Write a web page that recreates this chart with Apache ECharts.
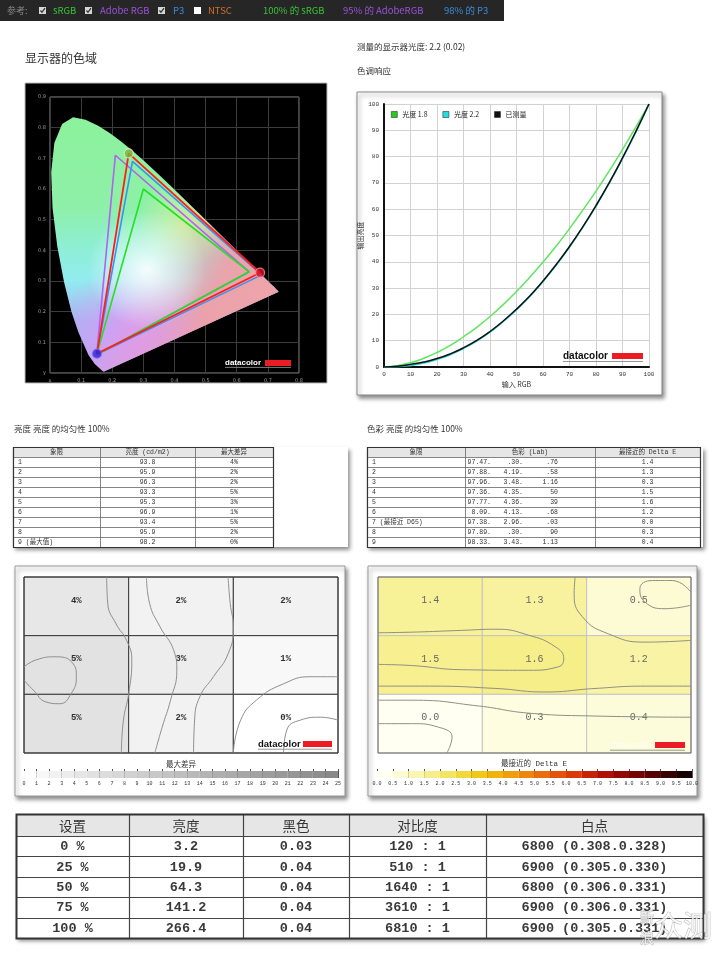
<!DOCTYPE html>
<html>
<head>
<meta charset="utf-8">
<script src="https://cdn.jsdelivr.net/npm/echarts@6/dist/echarts.min.js"></script>
<style>
  html, body { margin: 0; padding: 0; background: #fff; }
  #chart { width: 720px; height: 956px; }
</style>
</head>
<body>
<div id="chart"></div>
<script>
// ---- data ----
const refLabels = ['sRGB', 'Adobe RGB', 'P3', 'NTSC'];
const refChecked = [true, true, true, false];
const coverageLabels = ['100% 的 sRGB', '95% 的 AdobeRGB', '98% 的 P3'];

// CIE 1931 spectral locus (x, y)
const locus = [
  [0.1741, 0.0050], [0.1738, 0.0049], [0.1733, 0.0048], [0.1726, 0.0048], [0.1714, 0.0051],
  [0.1689, 0.0069], [0.1644, 0.0109], [0.1566, 0.0177], [0.1440, 0.0297], [0.1241, 0.0578],
  [0.0913, 0.1327], [0.0687, 0.2007], [0.0454, 0.2950], [0.0235, 0.4127], [0.0082, 0.5384],
  [0.0039, 0.6548], [0.0139, 0.7502], [0.0389, 0.8120], [0.0743, 0.8338], [0.1142, 0.8262],
  [0.1547, 0.8059], [0.1929, 0.7816], [0.2296, 0.7543], [0.2658, 0.7243], [0.3016, 0.6923],
  [0.3373, 0.6589], [0.3731, 0.6245], [0.4087, 0.5896], [0.4441, 0.5547], [0.4788, 0.5202],
  [0.5125, 0.4866], [0.5448, 0.4544], [0.5752, 0.4242], [0.6029, 0.3965], [0.6270, 0.3725],
  [0.6482, 0.3514], [0.6658, 0.3340], [0.6801, 0.3197], [0.6915, 0.3083], [0.7006, 0.2993],
  [0.7079, 0.2920], [0.7140, 0.2859], [0.7190, 0.2809], [0.7230, 0.2770], [0.7260, 0.2740],
  [0.7300, 0.2700], [0.7347, 0.2653]
];
const srgbGamut = [[0.64, 0.33], [0.30, 0.60], [0.15, 0.06]];
const adobeGamut = [[0.64, 0.33], [0.21, 0.71], [0.15, 0.06]];
const p3Gamut = [[0.68, 0.32], [0.265, 0.69], [0.15, 0.06]];
const measuredGamut = [[0.675, 0.327], [0.253, 0.716], [0.151, 0.063]];

// tone response
const toneX = [0, 5, 10, 15, 20, 25, 30, 35, 40, 45, 50, 55, 60, 65, 70, 75, 80, 85, 90, 95, 100];
const gamma18 = [0, 0.5, 1.6, 3.3, 5.5, 8.2, 11.5, 15.1, 19.2, 23.7, 28.7, 34.1, 39.9, 46.0, 52.6, 59.6, 66.9, 74.6, 82.7, 91.2, 100];
const gamma22 = [0, 0.1, 0.6, 1.5, 2.9, 4.7, 7.1, 9.9, 13.3, 17.3, 21.8, 26.8, 32.5, 38.8, 45.6, 53.1, 61.2, 69.9, 79.3, 89.3, 100];
const toneMeasured = [0, 0.3, 1.0, 1.9, 3.2, 5.0, 7.3, 10.1, 13.5, 17.5, 22.0, 27.0, 32.7, 39.0, 45.8, 53.3, 61.4, 70.1, 79.5, 89.5, 100];

// brightness uniformity
const quadrants = ['1', '2', '3', '4', '5', '6', '7', '8', '9 (最大值)'];
const luminance = ['93.8', '95.9', '96.3', '93.3', '95.3', '96.9', '93.4', '95.9', '98.2'];
const maxDiff = [4, 2, 2, 5, 3, 1, 5, 2, 0];

// colour uniformity
const colorQuadrants = ['1', '2', '3', '4', '5', '6', '7 (最接近 D65)', '8', '9'];
const labL = ['97.47.', '97.88.', '97.96.', '97.36.', '97.77.', '8.09.', '97.38.', '97.89.', '98.33.'];
const labA = ['.30.', '4.19.', '3.48.', '4.35.', '4.36.', '4.13.', '2.96.', '.30.', '3.43.'];
const labB = ['.76', '.58', '1.16', '50', '39', '.68', '.03', '90', '1.13'];
const deltaE = ['1.4', '1.3', '0.3', '1.5', '1.6', '1.2', '0.0', '0.3', '0.4'];
const deltaMap = [1.4, 1.3, 0.5, 1.5, 1.6, 1.2, 0.0, 0.3, 0.4];

// contour lines (x: 0..3 left to right, y: 0..3 bottom to top)
const leftContours = [
  [[0.79, 3], [0.80, 2.55], [0.88, 2.2], [0.98, 1.92], [1.03, 1.58], [1.0, 1.01], [0.95, 0.56], [0.93, 0]],
  [[1.17, 3], [1.2, 2.55], [1.3, 2.15], [1.43, 1.75], [1.46, 1.41], [1.4, 0.9], [1.32, 0.44], [1.25, 0]],
  [[1.95, 3], [1.97, 2.55], [2.0, 2.15], [1.95, 1.69], [1.81, 1.3], [1.68, 0.96], [1.63, 0.56], [1.62, 0]],
  [[0, 1.47], [0.12, 1.59], [0.31, 1.64], [0.47, 1.52], [0.5, 1.3], [0.45, 1.01], [0.34, 0.84], [0.21, 0.87], [0.09, 1.07], [0, 1.24]],
  [[2.0, 0], [2.07, 0.56], [2.22, 0.9], [2.48, 1.18], [2.74, 1.3], [3, 1.3]],
  [[2.48, 0], [2.51, 0.39], [2.64, 0.56], [2.83, 0.61], [3, 0.56]]
];
const rightContours = [
  [[1.89, 3], [1.88, 2.72], [1.96, 2.32], [2.21, 2.03], [2.56, 1.89], [3, 1.92]],
  [[3, 2.74], [2.82, 2.94], [2.63, 2.94], [2.51, 2.8], [2.56, 2.57], [2.75, 2.46], [3, 2.52]],
  [[0, 2.05], [0.33, 2.06], [0.8, 2.09], [1.13, 2.11], [1.44, 2.01], [1.7, 1.81], [1.78, 1.61], [1.73, 1.47], [1.44, 1.41], [0.8, 1.42], [0.33, 1.49], [0, 1.51]],
  [[0, 1.14], [0.49, 1.14], [1.13, 1.1], [1.6, 1.04], [2.08, 1.1], [2.56, 1.14], [3, 1.14]],
  [[0, 0.9], [0.33, 0.9], [0.97, 0.8], [1.44, 0.68], [2.08, 0.63], [3, 0.61]],
  [[0, 0.5], [0.33, 0.5], [0.58, 0.44], [0.71, 0.27], [0.66, 0]]
];

// colour bars
const leftBarTicks = [0, 1, 2, 3, 4, 5, 6, 7, 8, 9, 10, 11, 12, 13, 14, 15, 16, 17, 18, 19, 20, 21, 22, 23, 24, 25];
const leftBarColors = ['#ffffff', '#f8f8f8', '#f2f2f2', '#ececec', '#e6e6e6', '#e1e1e1', '#dcdcdc', '#d7d7d7', '#d2d2d2', '#cdcdcd',
  '#c8c8c8', '#c3c3c3', '#bebebe', '#b9b9b9', '#b4b4b4', '#afafaf', '#ababab', '#a6a6a6', '#a2a2a2', '#9d9d9d',
  '#999999', '#959595', '#919191', '#8d8d8d', '#898989'];
const rightBarTicks = [0, 0.5, 1, 1.5, 2, 2.5, 3, 3.5, 4, 4.5, 5, 5.5, 6, 6.5, 7, 7.5, 8, 8.5, 9, 9.5, 10];
const rightBarColors = ['#fffff2', '#fdfbd2', '#faf6b0', '#f6ee8a', '#f3e462', '#f1d838', '#f0c818', '#efb40c', '#ee9e0a', '#ed860a',
  '#eb6c0a', '#e5520a', '#dc3a0a', '#c82208', '#b01006', '#920804', '#740404', '#560202', '#380000', '#160000'];

// summary table
const settings = ['0 %', '25 %', '50 %', '75 %', '100 %'];
const brightness = ['3.2', '19.9', '64.3', '141.2', '266.4'];
const blackLevel = ['0.03', '0.04', '0.04', '0.04', '0.04'];
const contrast = ['120 : 1', '510 : 1', '1640 : 1', '3610 : 1', '6810 : 1'];
const whitePoint = ['6800 (0.308.0.328)', '6900 (0.305.0.330)', '6800 (0.306.0.331)', '6900 (0.306.0.331)', '6900 (0.305.0.331)'];

// ---- helpers ----
const CJK = '"Noto Sans CJK SC", sans-serif';
const MONO = '"Liberation Mono", "Noto Sans CJK SC", monospace';
const px = (v) => Math.round(v) + 0.5;

function txt(x, y, text, o) {
  const align = (o && o.align) || 'left';
  return {
    type: 'text', x, y, z: 5,
    style: Object.assign({
      text, fill: '#333', fontSize: 9, fontFamily: CJK,
      align, textAlign: align, verticalAlign: 'middle', textVerticalAlign: 'middle'
    }, o, { align, textAlign: align })
  };
}
function line(x1, y1, x2, y2, color, w) {
  return { type: 'line', z: 4, shape: { x1, y1, x2, y2 }, style: { stroke: color, lineWidth: w || 1 } };
}
function box(x, y, w, h, fill, stroke, shadow) {
  const s = { fill, stroke: stroke || null, lineWidth: 1 };
  if (shadow) Object.assign(s, { shadowBlur: 4, shadowOffsetX: 2, shadowOffsetY: 3, shadowColor: 'rgba(0,0,0,0.45)' });
  return { type: 'rect', z: -10, shape: { x, y, width: w, height: h }, style: s };
}

function addTable(g, t) {
  const W = t.widths.reduce((a, b) => a + b, 0);
  const n = t.columns[0].length;
  const H = t.headH + t.rowH * n;
  g.push({ type: 'rect', z: 3, shape: { x: t.x, y: t.y, width: W, height: t.headH }, style: { fill: t.headFill } });
  for (let r = 0; r < n; r++) {
    const yy = px(t.y + t.headH + t.rowH * r);
    g.push(line(t.x, yy, t.x + W, yy, t.line, t.lineW));
  }
  let cx = t.x;
  t.widths.forEach((w, c) => {
    if (c > 0) g.push(line(px(cx), t.y, px(cx), t.y + H, t.line, t.lineW));
    g.push(txt(cx + w / 2, t.y + t.headH / 2 + 0.5, t.header[c], Object.assign({ align: 'center' }, t.headFont)));
    t.columns[c].forEach((v, r) => {
      const left = t.align[c] === 'left';
      g.push(txt(left ? cx + t.pad : cx + w / 2, t.y + t.headH + t.rowH * (r + 0.5) + 0.5, v,
        Object.assign({ align: left ? 'left' : 'center' }, t.font)));
    });
    cx += w;
  });
  g.push({ type: 'rect', z: 4, shape: { x: px(t.x), y: px(t.y), width: Math.round(W), height: Math.round(H) },
    style: { fill: null, stroke: t.outer, lineWidth: t.outerW } });
}

function logo(g, x, y, size, color, barX, barW) {
  g.push(txt(x, y, 'datacolor', { fontSize: size, fontWeight: 'bold', fontFamily: '"Liberation Sans", sans-serif', fill: color }));
  g.push(line(x, y + size * 0.55, barX + barW, y + size * 0.55, 'rgba(140,140,140,0.9)', 1));
  g.push({ type: 'rect', z: 5, shape: { x: barX, y: y - 3, width: barW, height: 6 }, style: { fill: '#ec1c24' } });
}

// ---- graphics (page layout, titles, tables) ----
const g = [];
// top reference bar
g.push({ type: 'rect', z: -10, shape: { x: 0, y: 0, width: 504, height: 21 }, style: { fill: '#262626' } });
g.push(txt(7, 10.5, '参考:', { fill: '#8a8a8a', fontSize: 9 }));
const refColors = ['#38c238', '#9b52d8', '#3d8ad8', '#d0702c'];
const boxX = [39, 85, 158, 194];
const labX = [53, 100, 173, 208];
refLabels.forEach((s, i) => {
  g.push({ type: 'rect', z: 3, shape: { x: boxX[i], y: 7, width: 7, height: 7 }, style: { fill: refChecked[i] ? '#d6d6d6' : '#ffffff' } });
  if (refChecked[i]) {
    g.push({ type: 'polyline', z: 4, shape: { points: [[boxX[i] + 1.5, 10.5], [boxX[i] + 3, 12.3], [boxX[i] + 6, 8.2]] },
      style: { stroke: '#333', lineWidth: 1.3, fill: null } });
  }
  g.push(txt(labX[i], 10.5, s, { fill: refColors[i], fontSize: 9.5 }));
});
const covX = [263, 343, 444];
coverageLabels.forEach((s, i) => g.push(txt(covX[i], 10.5, s, { fill: refColors[i], fontSize: 9.5 })));

// section titles
g.push(txt(25, 58, '显示器的色域', { fontSize: 12, fill: '#333' }));
g.push(txt(357, 47, '测量的显示器光度: 2.2 (0.02)', { fontSize: 8.5, fill: '#333' }));
g.push(txt(357, 71, '色调响应', { fontSize: 8.5, fill: '#333' }));
g.push(txt(14, 429, '亮度 亮度 的均匀性 100%', { fontSize: 8.5, fill: '#333' }));
g.push(txt(367, 429, '色彩 亮度 的均匀性 100%', { fontSize: 8.5, fill: '#333' }));

// backdrops
g.push(box(25, 83, 302, 300, '#000', '#bbb'));
g.push(box(357, 92, 305, 303, '#fff', '#888', true));
g.push(box(13, 447, 335, 100, '#fff', null, true));
g.push(box(367, 447, 336, 100, '#fff', null, true));
g.push(box(15, 566, 330, 230, '#fff', '#999', true));
g.push(box(368, 566, 329, 230, '#fff', '#999', true));
g.push(box(16, 814, 687, 124, '#fff', null, true));

// logos
logo(g, 225, 363, 8, '#ffffff', 265, 26);
logo(g, 563, 356, 10, '#111111', 612, 31);
logo(g, 258, 744, 9.5, '#111111', 303, 29);
logo(g, 610, 745, 9.5, 'rgba(255,255,255,0.6)', 655, 30);

// colour bar titles
g.push(txt(181, 764, '最大差异', { align: 'center', fontSize: 7.5, fill: '#333' }));
g.push(txt(534, 764, '最接近的 Delta E', { align: 'center', fontSize: 7.5, fill: '#333', fontFamily: MONO }));

// small tables
const smallFont = { fontSize: 6.5, fontFamily: MONO, fill: '#333' };
addTable(g, {
  x: 13, y: 447, widths: [87, 95, 78], headH: 10, rowH: 10, pad: 5,
  header: ['象限', '亮度 (cd/m2)', '最大差异'],
  columns: [quadrants, luminance, maxDiff.map((v) => v + '%')],
  align: ['left', 'center', 'center'],
  headFill: '#e6e6e6', line: '#666', lineW: 0.8, outer: '#333', outerW: 1.2,
  headFont: smallFont, font: smallFont
});
addTable(g, {
  x: 367, y: 447, widths: [98, 130, 105], headH: 10, rowH: 10, pad: 5,
  header: ['象限', '色彩 (Lab)', '最接近的 Delta E'],
  columns: [colorQuadrants, labL.map(() => ''), deltaE],
  align: ['left', 'center', 'center'],
  headFill: '#e6e6e6', line: '#666', lineW: 0.8, outer: '#333', outerW: 1.2,
  headFont: smallFont, font: smallFont
});
[labL, labA, labB].forEach((arr, k) => {
  const rx = [491, 523, 558][k];
  arr.forEach((v, r) => g.push(txt(rx, 447 + 10 + 10 * (r + 0.5) + 0.5, v, Object.assign({ align: 'right' }, smallFont))));
});

// summary table
addTable(g, {
  x: 16, y: 814, widths: [113, 114, 106, 137, 217], headH: 22, rowH: 20.4, pad: 0,
  header: ['设置', '亮度', '黑色', '对比度', '白点'],
  columns: [settings, brightness, blackLevel, contrast, whitePoint],
  align: ['center', 'center', 'center', 'center', 'center'],
  headFill: '#e6e6e6', line: '#444', lineW: 1.2, outer: '#333', outerW: 2,
  headFont: { fontSize: 13.5, fontFamily: CJK, fill: '#333' },
  font: { fontSize: 13.5, fontFamily: MONO, fontWeight: 'bold', fill: '#3a3a3a' }
});
// watermark
const wm = { fill: 'rgba(255,255,255,0.75)', stroke: 'rgba(130,130,130,0.6)', lineWidth: 0.8 };
g.push(txt(640, 917, '新', Object.assign({ fontSize: 14 }, wm)));
g.push(txt(640, 938, '浪', Object.assign({ fontSize: 14 }, wm)));
g.push(txt(654, 926, '众测', Object.assign({ fontSize: 29 }, wm)));

// ---- series renderers ----
function renderLocus(params, api) {
  const shape = { points: locus.map((p) => api.coord(p)) };
  const G = echarts.graphic;
  return {
    type: 'group',
    children: [
      { type: 'polygon', shape, style: { fill: new G.LinearGradient(0, 0, 0, 1, [
        { offset: 0, color: '#8cf29c' }, { offset: 0.35, color: '#8ef0a8' }, { offset: 0.52, color: '#8eeed6' },
        { offset: 0.64, color: '#92ecf0' }, { offset: 0.8, color: '#aab2f4' }, { offset: 1, color: '#c2a4f4' }]) } },
      { type: 'polygon', shape, style: { fill: new G.LinearGradient(0.1, 0.3, 1, 0.75, [
        { offset: 0, color: 'rgba(238,160,168,0)' }, { offset: 0.42, color: 'rgba(238,160,168,0)' },
        { offset: 0.72, color: 'rgba(238,160,168,0.95)' }, { offset: 1, color: 'rgba(240,164,168,1)' }]) } },
      { type: 'polygon', shape, style: { fill: new G.RadialGradient(0.36, 0.85, 0.32, [
        { offset: 0, color: 'rgba(232,150,240,0.75)' }, { offset: 1, color: 'rgba(232,150,240,0)' }]) } },
      { type: 'polygon', shape, style: { fill: new G.RadialGradient(0.58, 0.42, 0.2, [
        { offset: 0, color: 'rgba(246,240,150,0.6)' }, { offset: 1, color: 'rgba(246,240,150,0)' }]) } },
      { type: 'polygon', shape, style: { fill: new G.RadialGradient(0.42, 0.6, 0.26, [
        { offset: 0, color: 'rgba(255,255,255,0.9)' }, { offset: 1, color: 'rgba(255,255,255,0)' }]) } }
    ]
  };
}

function mapCells(stroke, labelStyle, fmt) {
  return function (params, api) {
    const col = api.value(0), row = api.value(1), v = api.value(2);
    const p0 = api.coord([col, 3 - row]);
    const p1 = api.coord([col + 1, 2 - row]);
    return {
      type: 'group',
      children: [
        { type: 'rect', shape: { x: p0[0], y: p0[1], width: p1[0] - p0[0], height: p1[1] - p0[1] },
          style: { fill: api.visual('color'), stroke, lineWidth: 1 } },
        { type: 'text', z2: 10, style: Object.assign({
          text: fmt(v), x: (p0[0] + p1[0]) / 2, y: (p0[1] + p1[1]) / 2 - 6,
          align: 'center', textAlign: 'center', verticalAlign: 'middle', textVerticalAlign: 'middle'
        }, labelStyle) }
      ]
    };
  };
}

function barCells(ticks, colors) {
  return function (params, api) {
    const i = api.value(0);
    const p0 = api.coord([ticks[i], 1]);
    const p1 = api.coord([ticks[i + 1], 0]);
    return { type: 'rect', shape: { x: p0[0], y: p0[1], width: p1[0] - p0[0], height: p1[1] - p0[1] },
      style: { fill: colors[i] } };
  };
}

const closed = (arr) => arr.concat([arr[0]]);
const hidden = (gi, max) => ({ gridIndex: gi, type: 'value', min: 0, max, show: false });

const series = [
  { type: 'custom', name: 'locus', xAxisIndex: 0, yAxisIndex: 0, data: [[0.3, 0.3]], renderItem: renderLocus, silent: true },
  { type: 'line', name: 'Adobe RGB', xAxisIndex: 0, yAxisIndex: 0, data: closed(adobeGamut), symbol: 'none', lineStyle: { color: '#b062f0', width: 1.6 } },
  { type: 'line', name: 'P3', xAxisIndex: 0, yAxisIndex: 0, data: closed(p3Gamut), symbol: 'none', lineStyle: { color: '#3a92f2', width: 1.6 } },
  { type: 'line', name: 'sRGB', xAxisIndex: 0, yAxisIndex: 0, data: closed(srgbGamut), symbol: 'none', lineStyle: { color: '#22e022', width: 1.6 } },
  { type: 'line', name: 'measured', xAxisIndex: 0, yAxisIndex: 0, data: closed(measuredGamut), symbol: 'none', lineStyle: { color: '#ff1e1e', width: 1.8 } },
  { type: 'scatter', name: 'primaries', xAxisIndex: 0, yAxisIndex: 0, symbolSize: 9, z: 5,
    data: measuredGamut.map((p, i) => ({ value: p, itemStyle: {
      color: ['#d8102a', '#7cb440', '#2a22d8'][i], borderColor: ['#ff9090', '#e0f0b0', '#7070ff'][i], borderWidth: 1.2 } })) },

  { type: 'line', name: '光度 1.8', xAxisIndex: 1, yAxisIndex: 1, data: toneX.map((x, i) => [x, gamma18[i]]), smooth: true, symbol: 'none', lineStyle: { color: '#5fe65f', width: 1.5 }, itemStyle: { color: '#22cc22' } },
  { type: 'line', name: '光度 2.2', xAxisIndex: 1, yAxisIndex: 1, data: toneX.map((x, i) => [x, gamma22[i]]), smooth: true, symbol: 'none', lineStyle: { color: '#1fd6d6', width: 1.6 }, itemStyle: { color: '#20e0e0' } },
  { type: 'line', name: '已测量', xAxisIndex: 1, yAxisIndex: 1, data: toneX.map((x, i) => [x, toneMeasured[i]]), smooth: true, symbol: 'none', lineStyle: { color: '#111', width: 1.5 }, itemStyle: { color: '#111' } },

  { type: 'custom', name: 'leftMap', xAxisIndex: 2, yAxisIndex: 2, z: -1, silent: true,
    data: maxDiff.map((v, i) => [i % 3, Math.floor(i / 3), v]),
    renderItem: mapCells('#3a3a3a', { fill: '#333', fontSize: 9, fontWeight: 'bold', fontFamily: MONO }, (v) => v + '%') },
  { type: 'custom', name: 'leftBar', xAxisIndex: 3, yAxisIndex: 3, silent: true, z: 1,
    data: leftBarColors.map((c, i) => [i]), renderItem: barCells(leftBarTicks, leftBarColors) },
  { type: 'custom', name: 'rightMap', xAxisIndex: 4, yAxisIndex: 4, z: -1, silent: true,
    data: deltaMap.map((v, i) => [i % 3, Math.floor(i / 3), v]),
    renderItem: mapCells('#c4c4c4', { fill: '#666', fontSize: 10, fontFamily: MONO }, (v) => v.toFixed(1)) },
  { type: 'custom', name: 'rightBar', xAxisIndex: 5, yAxisIndex: 5, silent: true, z: 1,
    data: rightBarColors.map((c, i) => [i]), renderItem: barCells(rightBarTicks, rightBarColors) }
];
leftContours.forEach((c) => series.push({ type: 'line', xAxisIndex: 2, yAxisIndex: 2, data: c, smooth: 0.5, symbol: 'none', silent: true, lineStyle: { color: '#8e8e8e', width: 1 } }));
rightContours.forEach((c) => series.push({ type: 'line', xAxisIndex: 4, yAxisIndex: 4, data: c, smooth: 0.5, symbol: 'none', silent: true, lineStyle: { color: '#8f8f84', width: 1 } }));

const gamutLabel = { fontSize: 5, color: '#9a9a9a', fontFamily: '"DejaVu Sans", sans-serif' };
const toneLabel = { fontSize: 6, color: '#333', fontFamily: MONO };

const option = {
  animation: false,
  backgroundColor: '#fff',
  textStyle: { fontFamily: CJK },
  graphic: { elements: g },
  legend: {
    data: ['光度 1.8', '光度 2.2', '已测量'], left: 391, top: 111, padding: 0,
    icon: 'rect', itemWidth: 6, itemHeight: 6, itemGap: 15, itemStyle: { borderColor: '#333', borderWidth: 0.6 },
    textStyle: { fontSize: 7, color: '#222', fontFamily: CJK }
  },
  grid: [
    { left: 50, top: 97, width: 249, height: 276, show: true, backgroundColor: '#000', borderColor: '#8a8a8a', borderWidth: 1 },
    { left: 384, top: 104, width: 265, height: 263 },
    { left: 24, top: 577, width: 314, height: 176, show: true, borderColor: '#3a3a3a', borderWidth: 1 },
    { left: 24, top: 771, width: 314, height: 7 },
    { left: 378, top: 577, width: 313, height: 176, show: true, borderColor: '#666', borderWidth: 1 },
    { left: 377, top: 771, width: 315, height: 7 }
  ],
  xAxis: [
    { gridIndex: 0, type: 'value', min: 0, max: 0.8, interval: 0.1, axisLine: { show: false }, axisTick: { show: false },
      axisLabel: Object.assign({ margin: 5, formatter: (v) => (v === 0 ? 'x' : v.toFixed(1)) }, gamutLabel),
      splitLine: { lineStyle: { color: '#3c3c3c' } } },
    { gridIndex: 1, type: 'value', min: 0, max: 100, interval: 10,
      axisLine: { show: true, onZero: false, lineStyle: { color: '#111', width: 2 } }, axisTick: { show: false },
      axisLabel: Object.assign({ margin: 4 }, toneLabel), splitLine: { lineStyle: { color: '#d2d2d2' } },
      name: '输入 RGB', nameLocation: 'middle', nameGap: 14, nameTextStyle: { fontSize: 7, color: '#333' } },
    hidden(2, 3),
    { gridIndex: 3, type: 'value', min: 0, max: 25, interval: 1, axisLine: { show: false },
      axisTick: { show: true, inside: true, length: 9, lineStyle: { color: '#555' } },
      axisLabel: { fontSize: 5, color: '#333', margin: 3, fontFamily: MONO }, splitLine: { show: false } },
    hidden(4, 3),
    { gridIndex: 5, type: 'value', min: 0, max: 10, interval: 0.5, axisLine: { show: false },
      axisTick: { show: true, inside: true, length: 9, lineStyle: { color: '#555' } },
      axisLabel: { fontSize: 5, color: '#333', margin: 3, fontFamily: MONO, formatter: (v) => v.toFixed(1) }, splitLine: { show: false } }
  ],
  yAxis: [
    { gridIndex: 0, type: 'value', min: 0, max: 0.9, interval: 0.1, axisLine: { show: false }, axisTick: { show: false },
      axisLabel: Object.assign({ margin: 4, formatter: (v) => (v === 0 ? 'y' : v.toFixed(1)) }, gamutLabel),
      splitLine: { lineStyle: { color: '#3c3c3c' } } },
    { gridIndex: 1, type: 'value', min: 0, max: 100, interval: 10,
      axisLine: { show: true, onZero: false, lineStyle: { color: '#111', width: 2 } }, axisTick: { show: false },
      axisLabel: Object.assign({ margin: 5 }, toneLabel), splitLine: { lineStyle: { color: '#d2d2d2' } },
      name: '输出亮度', nameLocation: 'middle', nameGap: 17, nameRotate: 90, nameTextStyle: { fontSize: 7, color: '#333' } },
    hidden(2, 3),
    hidden(3, 1),
    hidden(4, 3),
    hidden(5, 1)
  ],
  visualMap: [
    { type: 'continuous', show: false, seriesIndex: 9, dimension: 2, min: 0, max: 25, inRange: { color: leftBarColors } },
    { type: 'continuous', show: false, seriesIndex: 11, dimension: 2, min: 0, max: 10, inRange: { color: rightBarColors } }
  ],
  series
};

const chart = echarts.init(document.getElementById('chart'), null, { renderer: 'canvas' });
chart.setOption(option);
window.addEventListener('resize', () => chart.resize());
</script>
</body>
</html>
